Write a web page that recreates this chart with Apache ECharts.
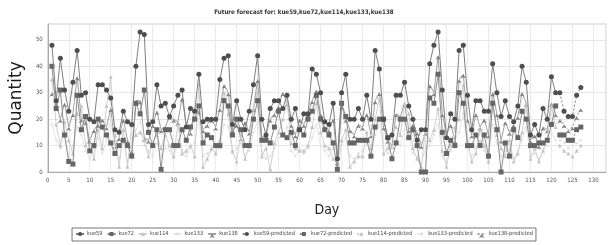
<!DOCTYPE html>
<html lang="en">
<head>
    <meta charset="UTF-8">
    <title>Future forecast</title>
    <script src="https://cdn.jsdelivr.net/npm/echarts@6/dist/echarts.min.js"></script>
    <style>
        html, body { margin: 0; padding: 0; background: #fff; }
        #chart { width: 608px; height: 245px; }
    </style>
</head>
<body>
<div id="chart"></div>

<script>
    // observed values, day 1 .. 121
    var kue59 = [48, 27, 43, 31, 23, 34, 46, 29, 30, 20, 19, 33, 33, 31, 28, 16, 15, 23, 19, 18,
        40, 53, 52, 18, 19, 33, 25, 26, 21, 25, 29, 31, 17, 24, 23, 37, 19, 20, 20, 20,
        35, 43, 44, 18, 27, 20, 16, 23, 33, 44, 20, 14, 24, 27, 27, 24, 29, 20, 24, 16,
        22, 22, 39, 37, 30, 19, 18, 26, 5, 30, 37, 20, 20, 24, 20, 29, 20, 46, 39, 20,
        13, 14, 29, 29, 34, 25, 20, 12, 16, 16, 41, 48, 53, 31, 13, 22, 20, 46, 48, 29,
        16, 27, 27, 23, 23, 41, 30, 21, 27, 21, 19, 25, 40, 34, 14, 18, 14, 24, 20, 36, 30];
    var kue72 = [40, 24, 31, 14, 4, 3, 29, 16, 21, 8, 10, 20, 17, 14, 11, 7, 10, 12, 10, 6,
        26, 22, 31, 15, 10, 16, 1, 16, 16, 10, 10, 16, 12, 17, 20, 25, 11, 14, 13, 10,
        10, 27, 25, 14, 20, 16, 10, 10, 20, 27, 12, 12, 11, 17, 23, 14, 13, 15, 10, 16,
        14, 20, 23, 29, 20, 16, 14, 11, 1, 26, 21, 11, 11, 12, 12, 12, 6, 17, 20, 20,
        13, 5, 11, 20, 20, 13, 16, 10, 0, 0, 28, 26, 37, 15, 7, 12, 10, 30, 26, 10,
        10, 14, 10, 14, 6, 26, 16, 0, 11, 6, 16, 13, 23, 20, 10, 10, 11, 11, 12, 18, 25];
    var kue114 = [35, 18, 10, 19, 12, 7, 22, 25, 10, 13, 5, 16, 9, 25, 36, 14, 2, 16, 2, 18,
        14, 15, 12, 6, 11, 14, 9, 14, 10, 6, 18, 7, 8, 10, 6, 33, 2, 5, 9, 7,
        12, 30, 22, 8, 4, 14, 5, 10, 24, 30, 6, 9, 1, 11, 15, 20, 27, 11, 9, 8,
        8, 10, 17, 26, 15, 10, 9, 5, 3, 12, 16, 2, 4, 6, 6, 15, 9, 20, 28, 7,
        9, 14, 17, 14, 26, 22, 9, 5, 2, 16, 12, 16, 24, 8, 2, 10, 17, 20, 33, 12,
        4, 7, 16, 10, 4, 27, 14, 9, 6, 12, 4, 7, 15, 26, 5, 9, 4, 8, 13, 25, 17];
    var kue133 = [18, 12, 9, 15, 6, 10, 17, 14, 8, 5, 9, 13, 7, 12, 20, 8, 5, 11, 4, 9,
        16, 19, 10, 8, 6, 11, 6, 9, 8, 5, 12, 8, 6, 9, 11, 20, 6, 7, 8, 10,
        9, 18, 17, 7, 9, 11, 6, 8, 15, 19, 8, 5, 6, 9, 13, 14, 17, 8, 6, 9,
        7, 9, 13, 18, 10, 8, 6, 9, 2, 10, 13, 6, 5, 7, 8, 11, 6, 14, 18, 9,
        7, 9, 12, 10, 16, 14, 7, 6, 3, 9, 10, 14, 18, 6, 4, 8, 12, 15, 22, 9,
        6, 9, 12, 8, 5, 18, 11, 6, 8, 9, 5, 8, 12, 17, 6, 7, 5, 8, 10, 15, 12];
    var kue138 = [30, 26, 20, 26, 17, 22, 36, 20, 19, 12, 16, 18, 20, 17, 24, 10, 13, 20, 12, 8,
        27, 27, 13, 12, 18, 23, 16, 17, 21, 20, 19, 28, 18, 15, 24, 23, 16, 18, 20, 17,
        24, 33, 30, 16, 18, 13, 19, 15, 24, 35, 13, 14, 20, 22, 25, 30, 26, 18, 14, 20,
        18, 22, 27, 31, 22, 17, 16, 20, 4, 25, 20, 16, 14, 18, 17, 22, 14, 27, 30, 17,
        12, 10, 22, 21, 26, 16, 18, 15, 10, 15, 33, 30, 44, 22, 14, 18, 12, 35, 37, 20,
        14, 22, 17, 20, 14, 30, 22, 12, 19, 15, 18, 21, 30, 26, 12, 14, 10, 17, 16, 26, 22];

    // forecast, day 122 .. 127
    var kue59Pred = [30, 23, 21, 21, 29, 32];
    var kue72Pred = [14, 14, 12, 12, 16, 17];
    var kue114Pred = [10, 8, 7, 6, 8, 10];
    var kue133Pred = [12, 11, 9, 10, 11, 12];
    var kue138Pred = [20, 18, 16, 17, 21, 24];

    var firstDay = 1, firstPredDay = 122;
    var xTicks = [0, 5, 10, 15, 20, 25, 30, 35, 40, 45, 50, 55, 60, 65, 70, 75, 80, 85, 90, 95, 100, 105, 110, 115, 120, 125, 130];
    var yTicks = [0, 10, 20, 30, 40, 50];

    function pairs(values, start) {
        return values.map(function (v, i) { return [start + i, v]; });
    }

    var names = ['kue59', 'kue72', 'kue114', 'kue133', 'kue138'];
    var actual = [kue59, kue72, kue114, kue133, kue138];
    var predicted = [kue59Pred, kue72Pred, kue114Pred, kue133Pred, kue138Pred];
    var colors = ['#4e4e4e', '#666666', '#c4c4c4', '#e0e0e0', '#808080'];
    var lineColors = ['#7e7e7e', '#8c8c8c', '#d0d0d0', '#e6e6e6', '#a0a0a0'];
    var symbols = ['circle', 'rect', 'triangle', 'diamond', 'arrow'];
    var sizes = [5, 5, 4, 3, 4];
    var smallFont = 'DejaVu Sans Condensed';

    var series = [];
    names.forEach(function (n, k) {
        series.push({
            name: n,
            type: 'line',
            data: pairs(actual[k], firstDay),
            symbol: symbols[k],
            symbolSize: sizes[k],
            itemStyle: { color: colors[k] },
            lineStyle: { color: lineColors[k], width: 1 },
            z: 10 - k
        });
    });
    names.forEach(function (n, k) {
        series.push({
            name: n + '-predicted',
            type: 'line',
            data: pairs(predicted[k], firstPredDay),
            symbol: symbols[k],
            symbolSize: sizes[k],
            itemStyle: { color: colors[k] },
            lineStyle: { color: lineColors[k], width: 1, type: [2, 2] },
            z: 10 - k
        });
    });

    var myChart = echarts.init(document.getElementById('chart'));
    var option = {
        animation: false,
        title: {
            text: 'Future forecast for: kue59,kue72,kue114,kue133,kue138',
            left: 'center',
            top: 4,
            textStyle: { fontFamily: smallFont, fontSize: 6.2, fontWeight: 'bold', color: '#333' }
        },
        legend: {
            bottom: 4,
            left: 'center',
            data: names.concat(names.map(function (n) { return n + '-predicted'; })),
            itemWidth: 8,
            itemHeight: 5,
            itemGap: 4,
            padding: [3, 3],
            borderColor: '#777',
            borderWidth: 1,
            textStyle: { fontFamily: smallFont, fontSize: 5.6, color: '#444', padding: [0, 0, 0, -2] }
        },
        grid: { left: 39, right: 2, top: 24, bottom: 73, show: true, borderColor: '#cfcfcf', borderWidth: 1 },
        xAxis: {
            type: 'value',
            min: 0,
            max: 133,
            interval: 5,
            name: 'Day',
            nameLocation: 'middle',
            nameGap: 31,
            nameTextStyle: { fontFamily: 'DejaVu Sans Condensed', fontSize: 14, color: '#222' },
            axisLine: { show: true, lineStyle: { color: '#aaa' } },
            axisTick: { show: false },
            axisLabel: {
                showMaxLabel: false,
                margin: 5,
                fontFamily: smallFont,
                fontSize: 6,
                color: '#555',
                formatter: function (v) { return xTicks.indexOf(v) >= 0 ? v : ''; }
            },
            splitLine: { show: true, lineStyle: { color: '#ebebeb' } }
        },
        yAxis: {
            type: 'value',
            min: 0,
            max: 56,
            interval: 10,
            name: 'Quantity',
            nameLocation: 'middle',
            nameGap: 14,
            nameTextStyle: { fontFamily: 'DejaVu Sans', fontSize: 17, color: '#1a1a1a' },
            axisLine: { show: true, lineStyle: { color: '#aaa' } },
            axisTick: { show: false },
            axisLabel: {
                showMaxLabel: false,
                margin: 5,
                fontFamily: smallFont,
                fontSize: 6,
                color: '#555',
                formatter: function (v) { return yTicks.indexOf(v) >= 0 ? v : ''; }
            },
            splitLine: { show: true, lineStyle: { color: '#e6e6e6' } }
        },
        series: series
    };
    myChart.setOption(option);
</script>
</body>
</html>
